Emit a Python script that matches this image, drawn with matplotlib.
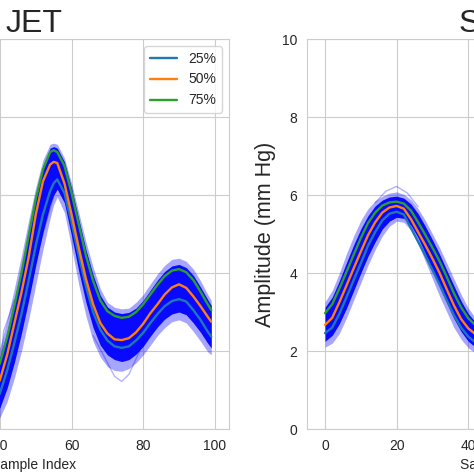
import matplotlib
matplotlib.use('Agg')
import matplotlib.pyplot as plt
import seaborn as sns

# ---- left panel (JET), sample index vs amplitude ----
jet_x = [38, 40, 42, 44, 46, 48, 50, 52, 54, 55, 56, 58, 60, 62, 64, 66, 68, 70,
         72, 74, 76, 78, 80, 82, 84, 86, 88, 90, 92, 94, 96, 98, 99]
jet_q25 = [0.6, 0.92, 1.5, 2.2, 2.95, 3.8, 4.7, 5.5, 6.1, 6.3, 6.4, 6.05, 5.3, 4.45, 3.65, 3.0, 2.55, 2.27,
           2.12, 2.08, 2.12, 2.27, 2.47, 2.72, 2.95, 3.15, 3.28, 3.33, 3.27, 3.05, 2.8, 2.5, 2.37]
jet_q50 = [0.9, 1.26, 1.9, 2.7, 3.5, 4.4, 5.5, 6.35, 6.78, 6.85, 6.82, 6.3, 5.5, 4.65, 3.85, 3.2, 2.72, 2.45,
           2.3, 2.28, 2.33, 2.48, 2.7, 2.97, 3.2, 3.45, 3.63, 3.71, 3.62, 3.4, 3.15, 2.88, 2.75]
jet_q75 = [1.3, 1.69, 2.35, 3.15, 4.0, 4.95, 5.9, 6.65, 7.1, 7.15, 7.1, 6.75, 6.05, 5.25, 4.45, 3.8, 3.3, 3.02,
           2.9, 2.85, 2.88, 3.0, 3.2, 3.45, 3.7, 3.92, 4.06, 4.1, 4.02, 3.82, 3.52, 3.2, 3.05]
jet_core_lo = [0.3, 0.55, 1.05, 1.7, 2.45, 3.3, 4.2, 5.05, 5.75, 6.0, 6.15, 5.8, 4.95, 4.05, 3.25, 2.6, 2.15, 1.9,
               1.78, 1.73, 1.78, 1.92, 2.12, 2.38, 2.62, 2.82, 2.95, 3.0, 2.93, 2.72, 2.48, 2.2, 2.08]
jet_core_hi = [1.45, 1.85, 2.5, 3.3, 4.15, 5.1, 6.02, 6.75, 7.2, 7.24, 7.2, 6.85, 6.17, 5.38, 4.6, 3.95, 3.43, 3.13,
               3.0, 2.96, 2.99, 3.1, 3.3, 3.56, 3.82, 4.04, 4.18, 4.22, 4.14, 3.94, 3.64, 3.32, 3.17]
jet_all_lo = [0.05, 0.3, 0.7, 1.3, 2.0, 2.8, 3.7, 4.6, 5.4, 5.75, 5.95, 5.55, 4.65, 3.7, 2.9, 2.25, 1.85, 1.6,
              1.5, 1.48, 1.55, 1.7, 1.9, 2.15, 2.4, 2.6, 2.75, 2.8, 2.72, 2.5, 2.25, 1.98, 1.9]
jet_all_hi = [1.8, 2.1, 2.8, 3.6, 4.45, 5.35, 6.2, 6.9, 7.3, 7.33, 7.3, 6.95, 6.3, 5.55, 4.8, 4.15, 3.6, 3.25,
              3.12, 3.08, 3.1, 3.25, 3.45, 3.72, 3.98, 4.2, 4.35, 4.38, 4.3, 4.1, 3.8, 3.45, 3.3]
# a few stray traces
jet_odd1_x = [40, 41, 44, 48, 52, 56, 58]
jet_odd1_y = [1.3, 2.5, 3.3, 3.65, 5.0, 6.3, 6.0]
jet_odd2_x = [66, 70, 72, 74, 76, 78, 80]
jet_odd2_y = [2.4, 1.7, 1.35, 1.22, 1.4, 1.8, 2.2]

# ---- right panel ----
sp_x = [0, 2, 4, 6, 8, 10, 12, 14, 16, 18, 20, 22, 24, 26, 28, 30, 32, 34, 36, 38, 40, 42, 44]
sp_q25 = [2.46, 2.6, 2.95, 3.38, 3.82, 4.25, 4.7, 5.05, 5.35, 5.52, 5.57, 5.5, 5.15, 4.8, 4.45, 4.08,
          3.7, 3.3, 2.92, 2.6, 2.37, 2.22, 2.15]
sp_q50 = [2.67, 2.85, 3.25, 3.68, 4.12, 4.55, 4.97, 5.3, 5.55, 5.68, 5.72, 5.65, 5.38, 5.05, 4.72, 4.37,
          4.0, 3.58, 3.17, 2.82, 2.58, 2.43, 2.35]
sp_q75 = [2.97, 3.2, 3.6, 4.03, 4.47, 4.9, 5.28, 5.55, 5.73, 5.81, 5.83, 5.78, 5.6, 5.3, 4.98, 4.65,
          4.3, 3.9, 3.48, 3.12, 2.84, 2.66, 2.56]
sp_core_lo = [2.25, 2.4, 2.7, 3.1, 3.55, 4.0, 4.43, 4.8, 5.13, 5.33, 5.43, 5.4, 5.22, 4.9, 4.5, 4.08,
              3.65, 3.23, 2.83, 2.5, 2.25, 2.1, 2.03]
sp_core_hi = [3.12, 3.38, 3.8, 4.27, 4.72, 5.13, 5.47, 5.72, 5.87, 5.95, 5.97, 5.92, 5.77, 5.52, 5.2, 4.85,
              4.48, 4.07, 3.67, 3.28, 2.96, 2.74, 2.62]
sp_all_lo = [2.1, 2.2, 2.45, 2.85, 3.3, 3.75, 4.2, 4.6, 4.95, 5.2, 5.33, 5.3, 5.1, 4.75, 4.3, 3.85,
             3.4, 3.0, 2.6, 2.3, 2.08, 1.95, 1.9]
sp_all_hi = [3.26, 3.55, 4.0, 4.5, 4.95, 5.35, 5.65, 5.85, 5.97, 6.05, 6.08, 6.02, 5.88, 5.65, 5.35, 5.0,
             4.65, 4.25, 3.85, 3.45, 3.1, 2.85, 2.7]
sp_odd_x = [14, 17, 20, 23, 26]
sp_odd_y = [5.8, 6.1, 6.22, 6.05, 5.7]

xticks = [0, 20, 40, 60, 80, 100]
yticks = [0, 2, 4, 6, 8, 10]

sns.set_style('whitegrid')
plt.rcParams['font.family'] = ['Liberation Sans', 'DejaVu Sans']

fig = plt.figure(figsize=(4.74, 4.74), dpi=100)
ax1 = fig.add_axes([-0.3397, 0.0949, 0.8228, 0.8228])
ax2 = fig.add_axes([0.6483, 0.0949, 0.8228, 0.8228])


def draw(ax, x, lo, hi, clo, chi, q25, q50, q75, odd, title):
    ax.fill_between(x, lo, hi, color='blue', alpha=0.35, lw=0)
    ax.fill_between(x, clo, chi, color='blue', alpha=0.95, lw=0)
    for ox, oy in odd:
        ax.plot(ox, oy, color='blue', alpha=0.3, lw=1)
    ax.plot(x, q25, color='tab:blue', lw=1.7, label='25%')
    ax.plot(x, q50, color='tab:orange', lw=1.7, label='50%')
    ax.plot(x, q75, color='tab:green', lw=1.7, label='75%')
    ax.set_xlim(-4.95, 103.95)
    ax.set_ylim(0, 10)
    ax.set_xticks(xticks)
    ax.set_yticks(yticks)
    ax.tick_params(labelsize=10, length=0, pad=7.5)
    ax.set_xlabel('Sample Index', fontsize=10, labelpad=3)
    ax.set_ylabel('Amplitude (mm Hg)', fontsize=15.5)
    ax.set_title(title, fontsize=23, pad=5)
    for s in ax.spines.values():
        s.set_color('0.8')


draw(ax1, jet_x, jet_all_lo, jet_all_hi, jet_core_lo, jet_core_hi,
     jet_q25, jet_q50, jet_q75, [(jet_odd1_x, jet_odd1_y), (jet_odd2_x, jet_odd2_y)], 'JET')
ax1.legend(loc='upper right', fontsize=10)

draw(ax2, sp_x, sp_all_lo, sp_all_hi, sp_core_lo, sp_core_hi,
     sp_q25, sp_q50, sp_q75, [(sp_odd_x, sp_odd_y)], 'SPEC')

plt.savefig('out.png', dpi=100)
